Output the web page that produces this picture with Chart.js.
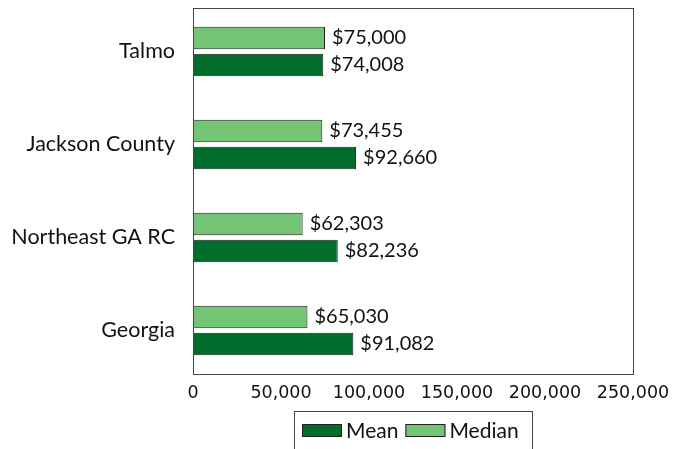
<!DOCTYPE html>
<html>
<head>
<meta charset="utf-8">
<script src="https://cdn.jsdelivr.net/npm/chart.js@4.4.1/dist/chart.umd.min.js"></script>
<style>
html,body{margin:0;padding:0;background:#fff;}
#wrap{width:673px;height:449px;position:relative;}
</style>
</head>
<body>
<div id="wrap"><canvas id="c" width="673" height="449"></canvas></div>
<script>
const categories = ["Talmo", "Jackson County", "Northeast GA RC", "Georgia"];
const meanValues = [74008, 92660, 82236, 91082];
const medianValues = [75000, 73455, 62303, 65030];
const xTicks = [0, 50000, 100000, 150000, 200000, 250000];

const LFONT = "Lato";
const fmt = v => v.toLocaleString("en-US");
const INSET = 3;

const frame = {
  id: "frame",
  afterDraw(chart) {
    const a = chart.chartArea, ctx = chart.ctx;
    ctx.save();
    ctx.strokeStyle = "#444";
    ctx.lineWidth = 1;
    const t = Math.round(a.top) + INSET, b = Math.round(a.bottom) - INSET;
    ctx.strokeRect(Math.round(a.left) + 0.5, t + 0.5, Math.round(a.right - a.left), b - t);
    ctx.restore();
  }
};

const valueLabels = {
  id: "valueLabels",
  afterDatasetsDraw(chart) {
    const ctx = chart.ctx;
    ctx.save();
    ctx.font = "20px " + LFONT;
    ctx.fillStyle = "#111";
    ctx.textAlign = "left";
    ctx.textBaseline = "middle";
    chart.data.datasets.forEach((ds, i) => {
      chart.getDatasetMeta(i).data.forEach((el, j) => {
        ctx.fillText("$" + fmt(ds.data[j]), el.x + 7, el.y);
      });
    });
    ctx.restore();
  }
};

const boxLegend = {
  id: "boxLegend",
  afterDraw(chart) {
    const ctx = chart.ctx;
    const items = chart.data.datasets.slice().reverse();
    ctx.save();
    ctx.font = "21px " + LFONT;
    ctx.textBaseline = "middle";
    ctx.textAlign = "left";
    const sw = 40, sh = 13, gapSwText = 4, gapItems = 7, padL = 8, padR = 13;
    let total = padL + padR;
    items.forEach((d, i) => {
      total += sw + gapSwText + ctx.measureText(d.label).width + (i < items.length - 1 ? gapItems : 0);
    });
    const cx = (chart.chartArea.left + chart.chartArea.right) / 2;
    const left = Math.round(cx - total / 2);
    const top = 411;
    ctx.strokeStyle = "#444";
    ctx.lineWidth = 1;
    ctx.strokeRect(left + 0.5, top + 0.5, Math.round(total), 60);
    let x = left + padL;
    const y = 430;
    items.forEach((d) => {
      ctx.fillStyle = d.backgroundColor;
      ctx.fillRect(x, y - 6, sw, sh);
      ctx.strokeStyle = "#222";
      ctx.strokeRect(x + 0.5, y - 6 + 0.5, sw - 1, sh - 1);
      x += sw + gapSwText;
      ctx.fillStyle = "#111";
      ctx.fillText(d.label, x, y + 1);
      x += ctx.measureText(d.label).width + gapItems;
    });
    ctx.restore();
  }
};

new Chart(document.getElementById("c"), {
  type: "bar",
  data: {
    labels: categories,
    datasets: [
      { label: "Median", data: medianValues, backgroundColor: "#74c476", borderColor: "#1e1e1e", borderWidth: 1, borderSkipped: false },
      { label: "Mean", data: meanValues, backgroundColor: "#006d2c", borderColor: "#1e1e1e", borderWidth: 1, borderSkipped: false }
    ]
  },
  options: {
    indexAxis: "y",
    responsive: false,
    animation: false,
    categoryPercentage: 0.58,
    barPercentage: 0.83,
    layout: { padding: { top: 5, right: 40, left: 0, bottom: 0 } },
    plugins: { legend: { display: false }, tooltip: { enabled: false } },
    scales: {
      x: {
        min: 0, max: 250000,
        afterBuildTicks(scale) { scale.ticks = xTicks.map(v => ({ value: v })); },
        afterFit(scale) { scale.height = 72; scale.paddingLeft = 0; scale.paddingRight = 0; },
        grid: { display: false, drawTicks: false },
        border: { display: false },
        ticks: { color: "#111", font: { family: "DejaVu Sans", size: 17.5 }, padding: 6, maxRotation: 0, autoSkip: false, callback: v => fmt(v) }
      },
      y: {
        afterFit(scale) { scale.width = 193; scale.paddingTop = 0; scale.paddingBottom = 0; },
        grid: { display: false, drawTicks: false },
        border: { display: false },
        ticks: { color: "#111", font: { family: LFONT, size: 21.5 }, padding: 18 }
      }
    }
  },
  plugins: [frame, valueLabels, boxLegend]
});
</script>
</body>
</html>
